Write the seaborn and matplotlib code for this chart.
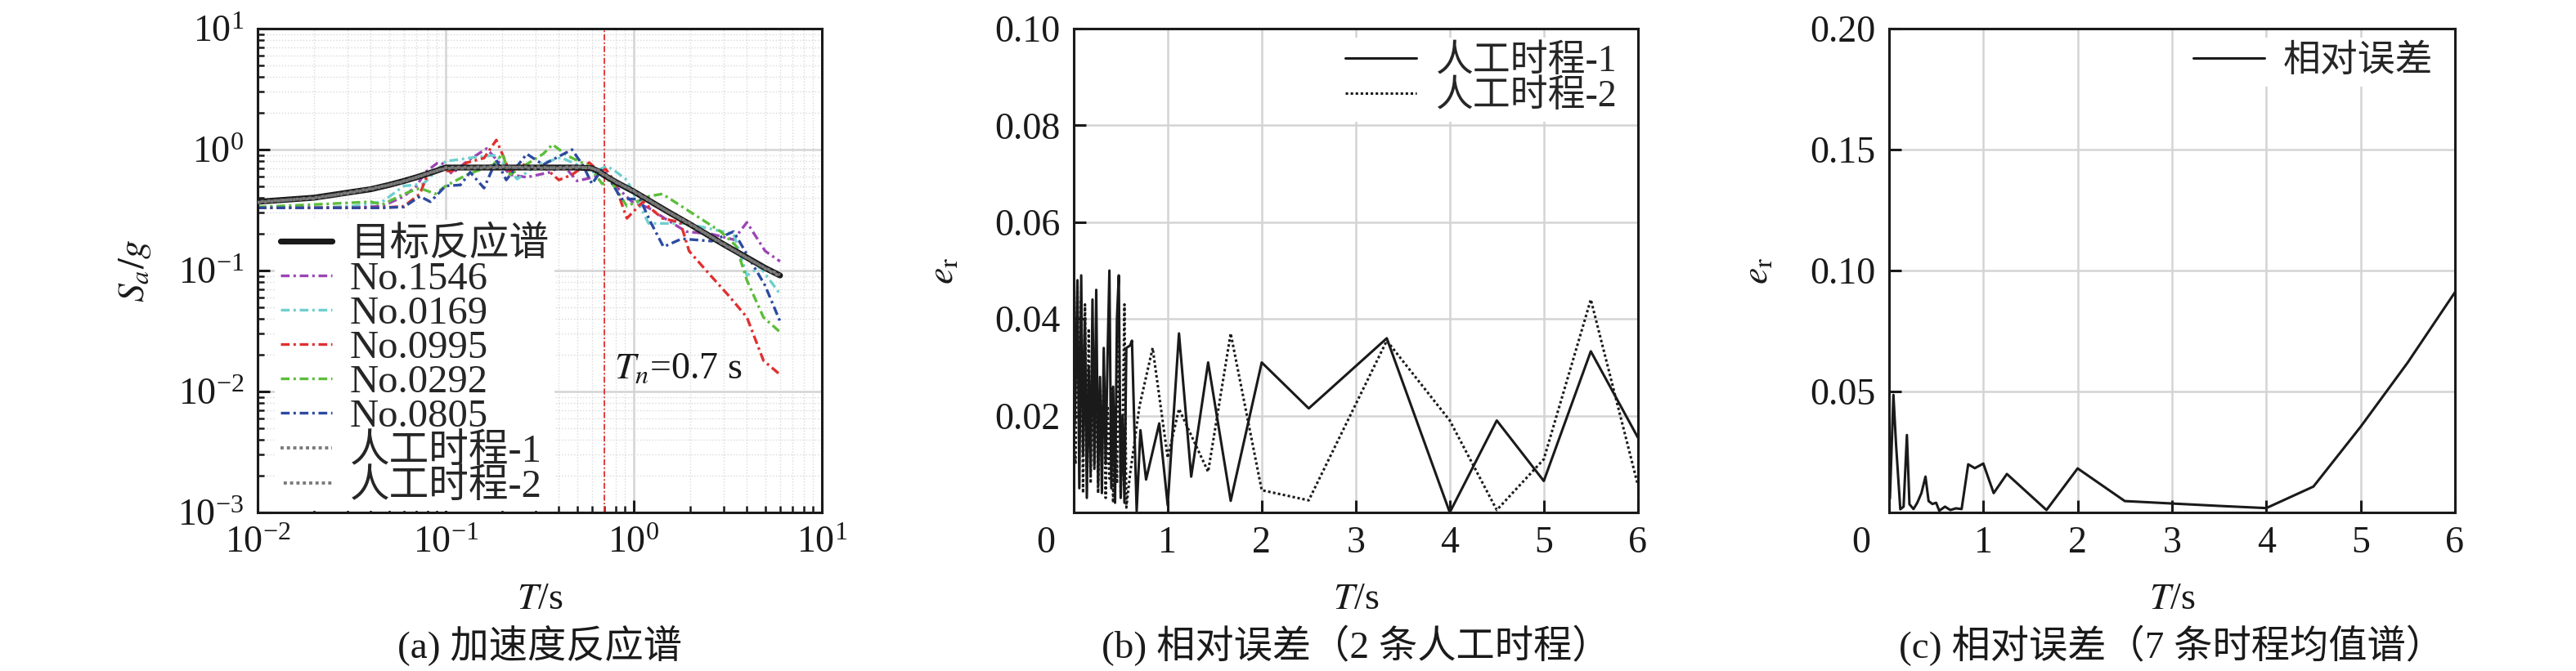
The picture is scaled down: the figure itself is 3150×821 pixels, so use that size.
import matplotlib
matplotlib.use("Agg")
import matplotlib.pyplot as plt
import seaborn as sns
import pandas as pd
from matplotlib.ticker import LogLocator, NullFormatter, FormatStrFormatter, FixedLocator

# ---- data ----
# (a) acceleration response spectra, T in s, Sa/g
T_tgt = [0.01, 0.02, 0.03, 0.04, 0.05, 0.06, 0.07, 0.08, 0.09, 0.1, 0.2, 0.3, 0.4,
         0.5, 0.6, 0.65, 0.7, 0.8, 1.0, 1.5, 2.0, 3.0, 4.0, 5.0, 6.0]
Sa_tgt = [0.37, 0.40, 0.44, 0.47, 0.51, 0.55, 0.59, 0.63, 0.67, 0.71, 0.71, 0.71, 0.71,
          0.71, 0.70, 0.66, 0.61, 0.54, 0.45, 0.31, 0.24, 0.165, 0.128, 0.105, 0.091]
Sa_art1 = [0.365, 0.40, 0.435, 0.47, 0.51, 0.55, 0.59, 0.63, 0.67, 0.71, 0.72, 0.70, 0.71,
           0.72, 0.70, 0.67, 0.61, 0.545, 0.45, 0.31, 0.24, 0.166, 0.127, 0.105, 0.092]
Sa_art2 = [0.37, 0.395, 0.44, 0.475, 0.51, 0.545, 0.59, 0.635, 0.67, 0.70, 0.71, 0.72, 0.70,
           0.71, 0.71, 0.66, 0.62, 0.54, 0.455, 0.31, 0.243, 0.164, 0.128, 0.104, 0.090]

T_1546 = [0.01, 0.02, 0.03, 0.046, 0.06, 0.07, 0.078, 0.09, 0.095, 0.108, 0.13, 0.165, 0.22,
          0.27, 0.36, 0.42, 0.5, 0.61, 0.7, 0.8, 0.98, 1.2, 1.46, 1.9, 2.6, 3.4, 4.0, 5.0, 6.0]
Sa_1546 = [0.33, 0.33, 0.33, 0.34, 0.41, 0.50, 0.65, 0.77, 0.78, 0.63, 0.80, 1.02, 0.62,
           0.59, 0.65, 0.75, 0.55, 0.59, 0.64, 0.50, 0.37, 0.33, 0.27, 0.21, 0.20, 0.18, 0.25, 0.145, 0.119]

T_0169 = [0.01, 0.02, 0.032, 0.046, 0.06, 0.076, 0.1, 0.14, 0.186, 0.24, 0.31, 0.41, 0.5,
          0.61, 0.72, 0.8, 0.92, 1.2, 1.9, 2.6, 3.4, 4.0, 4.7, 6.0]
Sa_0169 = [0.33, 0.33, 0.34, 0.37, 0.50, 0.52, 0.80, 0.86, 0.90, 0.57, 0.75, 0.86, 0.75,
           0.65, 0.73, 0.66, 0.56, 0.245, 0.245, 0.22, 0.20, 0.091, 0.107, 0.064]

T_0995 = [0.01, 0.02, 0.03, 0.046, 0.06, 0.073, 0.08, 0.092, 0.108, 0.13, 0.16, 0.186, 0.22,
          0.26, 0.30, 0.33, 0.40, 0.47, 0.58, 0.66, 0.71, 0.78, 0.92, 1.12, 1.42, 1.77, 1.97,
          2.5, 3.2, 4.0, 4.9, 6.0]
Sa_0995 = [0.33, 0.33, 0.33, 0.33, 0.34, 0.43, 0.62, 0.68, 0.66, 0.78, 0.85, 1.2, 0.65,
           0.75, 0.69, 0.73, 0.56, 0.62, 0.78, 0.65, 0.69, 0.56, 0.27, 0.37, 0.27, 0.25, 0.145,
           0.095, 0.062, 0.041, 0.018, 0.0138]

T_0292 = [0.01, 0.019, 0.04, 0.046, 0.06, 0.073, 0.088, 0.1, 0.13, 0.18, 0.2, 0.22, 0.33,
          0.37, 0.45, 0.58, 0.68, 0.74, 0.8, 0.92, 1.2, 1.42, 2.9, 3.5, 4.0, 4.9, 6.0]
Sa_0292 = [0.335, 0.35, 0.37, 0.35, 0.43, 0.48, 0.43, 0.50, 0.62, 0.75, 0.92, 0.62, 0.92,
           1.1, 0.88, 0.73, 0.52, 0.56, 0.48, 0.34, 0.41, 0.43, 0.21, 0.16, 0.083, 0.041, 0.031]

T_0805 = [0.01, 0.02, 0.03, 0.046, 0.06, 0.073, 0.083, 0.1, 0.12, 0.135, 0.16, 0.186, 0.21,
          0.27, 0.33, 0.47, 0.54, 0.6, 0.68, 0.75, 0.86, 1.08, 1.24, 1.44, 1.8, 2.6, 3.4, 5.0, 6.0]
Sa_0805 = [0.33, 0.33, 0.33, 0.33, 0.335, 0.41, 0.37, 0.50, 0.51, 0.65, 0.48, 0.82, 0.56,
           0.92, 0.75, 1.0, 0.73, 0.52, 0.69, 0.56, 0.39, 0.39, 0.245, 0.157, 0.183, 0.175, 0.21,
           0.075, 0.038]

# (b) relative error of the two artificial records
T_b1 = [0.01, 0.02, 0.04, 0.06, 0.08, 0.10, 0.12, 0.14, 0.16, 0.18, 0.20, 0.22, 0.24, 0.26,
        0.28, 0.30, 0.32, 0.34, 0.36, 0.38, 0.40, 0.42, 0.44, 0.46, 0.48, 0.50, 0.52, 0.54,
        0.56, 0.60, 0.62, 0.67, 0.71, 0.77, 0.91, 1.0, 1.12, 1.25, 1.43, 1.67, 2.0, 2.5,
        3.33, 4.0, 4.5, 5.0, 5.5, 6.0]
e_b1 = [0.018, 0.026, 0.048, 0.005, 0.049, 0.012, 0.040, 0.003, 0.030, 0.008, 0.044, 0.010,
        0.046, 0.006, 0.028, 0.004, 0.034, 0.010, 0.032, 0.050, 0.005, 0.026, 0.002, 0.040,
        0.049, 0.003, 0.020, 0.002, 0.034, 0.0345, 0.0355, 0.0003, 0.017, 0.0068, 0.0184,
        0.0015, 0.037, 0.0074, 0.031, 0.0024, 0.031, 0.0215, 0.036, 0.0, 0.019, 0.0065,
        0.0333, 0.0155]
T_b2 = [0.01, 0.02, 0.04, 0.06, 0.08, 0.10, 0.12, 0.14, 0.16, 0.18, 0.20, 0.22, 0.24, 0.26,
        0.28, 0.30, 0.32, 0.34, 0.36, 0.38, 0.40, 0.42, 0.44, 0.46, 0.48, 0.50, 0.52, 0.54,
        0.56, 0.60, 0.70, 0.84, 1.0, 1.12, 1.43, 1.67, 2.0, 2.5, 3.33, 4.0, 4.5, 5.0, 5.5, 6.0]
e_b2 = [0.012, 0.010, 0.047, 0.015, 0.044, 0.004, 0.043, 0.012, 0.038, 0.006, 0.034, 0.009,
        0.030, 0.004, 0.024, 0.012, 0.028, 0.003, 0.022, 0.007, 0.026, 0.002, 0.020, 0.006,
        0.042, 0.004, 0.016, 0.043, 0.001, 0.008, 0.022, 0.034, 0.0113, 0.0214, 0.0084,
        0.037, 0.0046, 0.0025, 0.0355, 0.019, 0.0005, 0.011, 0.044, 0.0057]

# (c) relative error of the 7-record mean spectrum
T_c = [0.01, 0.047, 0.075, 0.12, 0.155, 0.19, 0.217, 0.26, 0.30, 0.344, 0.387, 0.42, 0.46,
       0.50, 0.533, 0.594, 0.65, 0.71, 0.77, 0.84, 0.91, 1.0, 1.11, 1.25, 1.67, 2.0, 2.5,
       3.0, 3.5, 4.0, 4.5, 5.0, 5.5, 6.0]
e_c = [0.0057, 0.0486, 0.028, 0.0013, 0.0024, 0.032, 0.0034, 0.0014, 0.004, 0.008, 0.0148,
       0.0047, 0.0035, 0.004, 0.0007, 0.0024, 0.001, 0.0017, 0.0014, 0.0199, 0.0183, 0.0202,
       0.008, 0.0159, 0.001, 0.0182, 0.0047, 0.0037, 0.0027, 0.0018, 0.0107, 0.0354, 0.062,
       0.091]

xticks_lin = [0, 1, 2, 3, 4, 5, 6]
xtick_labels_lin = ["", "1", "2", "3", "4", "5", "6"]
yticks_b = [0.02, 0.04, 0.06, 0.08, 0.10]
yticks_c = [0.05, 0.10, 0.15, 0.20]

# ---- style ----
sns.set_theme(style="ticks")
plt.rcParams["font.family"] = ["Liberation Serif", "Noto Sans CJK SC"]
plt.rcParams["mathtext.fontset"] = "stix"
plt.rcParams["axes.unicode_minus"] = True
FS = 33
INK = "#1a1a1a"
GRID = "#d4d4d4"
PAD = 12  # points between axis and tick labels
dashdot = (0, (3.2, 1.4, 0.9, 1.4))

fig = plt.figure(figsize=(31.5, 8.21), dpi=100)
ax_a = fig.add_axes([0.100, 0.2363, 0.219, 0.7211])
ax_b = fig.add_axes([0.4168, 0.2363, 0.219, 0.7211])
ax_c = fig.add_axes([0.7333, 0.2363, 0.2197, 0.7211])


def style_axes(ax):
    for sp in ax.spines.values():
        sp.set_linewidth(2.2)
        sp.set_color(INK)
    ax.tick_params(which="major", direction="in", length=11, width=2.2, color=INK,
                   labelsize=FS, pad=PAD, top=False, right=False, labelcolor=INK)
    ax.tick_params(which="minor", direction="in", length=6, width=1.8, color=INK,
                   top=False, right=False)
    ax.set_axisbelow(True)


# ---- (a) ----
ax_a.set_xscale("log")
ax_a.set_yscale("log")
records = [
    ("No.1546", T_1546, Sa_1546, "#9b45b5"),
    ("No.0169", T_0169, Sa_0169, "#6fcfcf"),
    ("No.0995", T_0995, Sa_0995, "#e03030"),
    ("No.0292", T_0292, Sa_0292, "#5cbd3a"),
    ("No.0805", T_0805, Sa_0805, "#2c4aa0"),
]
sns.lineplot(x=T_tgt, y=Sa_tgt, ax=ax_a, color=INK, lw=5.2, label="目标反应谱", zorder=3)
for name, t, s, col in records:
    sns.lineplot(x=t, y=s, ax=ax_a, color=col, lw=2.4, linestyle=dashdot, label=name,
                 sort=False, estimator=None, zorder=2)
sns.lineplot(x=T_tgt, y=Sa_art1, ax=ax_a, color="#7a7a7a", lw=2.8, linestyle=(0, (1, 1)),
             label="人工时程-1", zorder=4)
sns.lineplot(x=T_tgt, y=Sa_art2, ax=ax_a, color="#7a7a7a", lw=2.8, linestyle=(1, (1, 1)),
             label="人工时程-2", zorder=4)
ax_a.axvline(0.7, color="#e03030", lw=1.3, linestyle=(0, (4, 1.5, 1, 1.5)), zorder=1)
ax_a.text(0.79, 0.0128, "$T_n$=0.7 s", fontsize=FS, color=INK, ha="left", va="baseline")

ax_a.set_xlim(1e-2, 1e1)
ax_a.set_ylim(1e-3, 1e1)
ax_a.xaxis.set_minor_locator(LogLocator(base=10, subs=range(2, 10), numticks=20))
ax_a.yaxis.set_minor_locator(LogLocator(base=10, subs=range(2, 10), numticks=20))
ax_a.xaxis.set_minor_formatter(NullFormatter())
ax_a.yaxis.set_minor_formatter(NullFormatter())
ax_a.grid(True, which="major", color=GRID, lw=1.8, ls="-")
ax_a.grid(True, which="minor", color="#d9d9d9", lw=1.0, ls=":")
style_axes(ax_a)
ax_a.set_xlabel("$T$/s", fontsize=FS, color=INK)
ax_a.set_ylabel("$S_a/g$", fontsize=FS, color=INK)
ax_a.xaxis.set_label_coords(0.5, -0.144)
ax_a.yaxis.set_label_coords(-0.185, 0.5)
ax_a.legend(loc="upper left", bbox_to_anchor=(0.03, 0.605), fontsize=35, frameon=True,
            framealpha=1, facecolor="white", edgecolor="none", fancybox=False,
            borderpad=0.15, borderaxespad=0, labelspacing=-0.04, handlelength=1.3,
            handletextpad=0.45)

# ---- (b) ----
sns.lineplot(x=T_b1, y=e_b1, ax=ax_b, color=INK, lw=2.2, label="人工时程-1",
             sort=False, estimator=None)
sns.lineplot(x=T_b2, y=e_b2, ax=ax_b, color=INK, lw=2.2, linestyle=(0, (1, 1)),
             label="人工时程-2", sort=False, estimator=None)
ax_b.set_xlim(0, 6)
ax_b.set_ylim(0, 0.10)
ax_b.yaxis.set_major_locator(FixedLocator(yticks_b))

# ---- (c) ----
sns.lineplot(x=T_c, y=e_c, ax=ax_c, color=INK, lw=2.2, label="相对误差",
             sort=False, estimator=None)
ax_c.set_xlim(0, 6)
ax_c.set_ylim(0, 0.20)
ax_c.yaxis.set_major_locator(FixedLocator(yticks_c))

for ax in (ax_b, ax_c):
    ax.set_xticks(xticks_lin)
    ax.set_xticklabels(xtick_labels_lin)
    ax.yaxis.set_major_formatter(FormatStrFormatter("%.2f"))
    ax.grid(True, which="major", color=GRID, lw=1.8, ls="-")
    style_axes(ax)
    ax.set_xlabel("$T$/s", fontsize=FS, color=INK)
    ax.set_ylabel(r"$e_\mathrm{r}$", fontsize=FS, color=INK)
    ax.xaxis.set_label_coords(0.5, -0.144)
    ax.yaxis.set_label_coords(-0.20, 0.5)
    ax.annotate("0", xy=(0, 0), xycoords="axes fraction", xytext=(-34, -PAD * 100 / 72),
                textcoords="offset pixels", ha="center", va="top", fontsize=FS, color=INK)
    ax.legend(loc="upper right", bbox_to_anchor=(0.975, 0.982), fontsize=FS, frameon=True,
              framealpha=1, facecolor="white", edgecolor="none", fancybox=False,
              borderpad=0.2, borderaxespad=0, labelspacing=0.0, handlelength=1.9,
              handletextpad=0.5)

titles = [(ax_a, "(a) 加速度反应谱"),
          (ax_b, "(b) 相对误差（2 条人工时程）"),
          (ax_c, "(c) 相对误差（7 条时程均值谱）")]
for ax, txt in titles:
    ax.text(0.5, -0.275, txt, transform=ax.transAxes, ha="center", va="center",
            fontsize=34, color=INK)

fig.savefig("out.png", dpi=100)
